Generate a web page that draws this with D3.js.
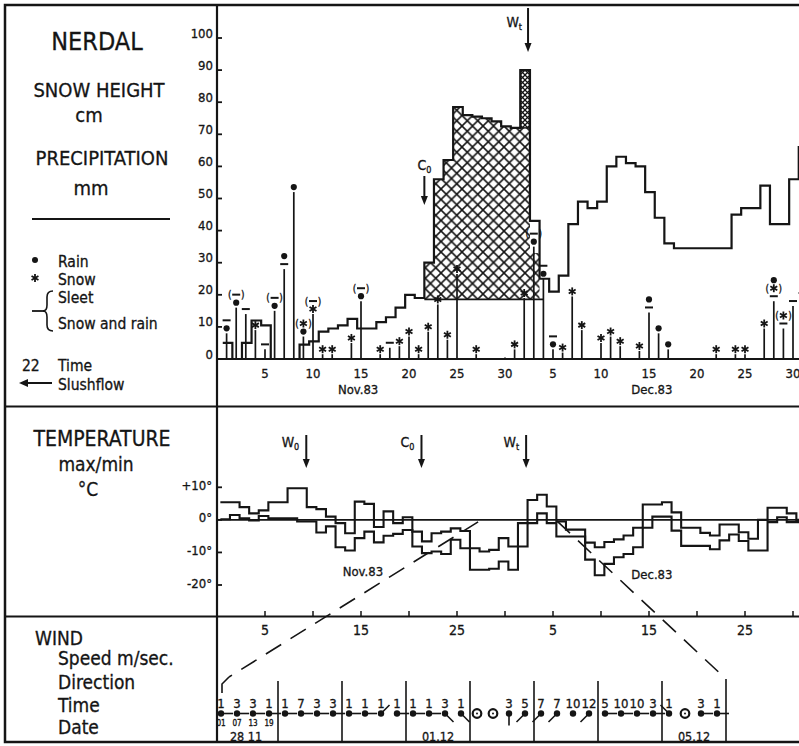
<!DOCTYPE html>
<html>
<head>
<meta charset="utf-8">
<script src="https://cdn.jsdelivr.net/npm/d3@7"></script>
<style>
	body { margin: 0; background: #fff; }
	text { font-family: "DejaVu Sans Condensed", "Liberation Sans Narrow", "DejaVu Sans", sans-serif; font-stretch: condensed; fill: #151515; stroke: #151515; stroke-width: 0.3px; }
</style>
</head>
<body>
<svg id="chart" width="799" height="746"></svg>
<script>
// day 1 = 1 Nov 1983, day 31 = 1 Dec 1983, day 61 = 31 Dec 1983
let snowHeight = [5, 0, 5, 12, 10.5, 0, 0, 0, 4.5, 5.5, 8.5, 9.5, 10.5, 12.5, 9.5, 9.5, 11.5, 13, 16, 20,
	19, 30, 56, 62, 78.5, 76, 75.5, 75, 74, 72.5, 72, 90, 43, 25, 21, 26, 42, 49, 47, 49,
	60, 63, 61, 60, 52, 44, 36, 34.5, 34.5, 34.5, 34.5, 34.5, 34.5, 45, 47, 47, 54, 42, 42, 56, 66];

let tempMax = [5.4, 5.4, 3.9, 2.0, 2.9, 5.4, 5.4, 9.7, 9.7, 3.9, 3.3, 1.0, -1.0, -4.1, 5.6, 4.9, -2.2, 2.6, -1.0, 0.8,
	-3.6, -6.6, -4.1, -3.6, -2.6, -3.4, -8.7, -9.7, -9.2, -5.6, -8.2, -1.0, 6.1, 7.7, 4.1, -0.5, -3.0, -3.0, -7.0, -8.4,
	-6.8, -6.0, -4.8, -2.4, 4.7, 4.7, 5.4, 2.3, -2.4, -2.4, -4.0, -4.8, -1.4, -1.4, -3.8, -5.8, 0, 3.7, 3.7, 2.0, 0];

let tempMin = [0.2, 1.5, 0.5, -0.2, 1.2, 0.5, 0.5, 0.5, -0.5, -0.5, -3.9, -2.0, -8.4, -9.4, -5.6, -3.6, -6.9, -4.9, -4.3, -3.1,
	-8.2, -10.2, -9.7, -10.5, -6.1, -8.7, -15.3, -15.3, -15.0, -12.8, -15.3, -8.2, -1.0, 2.0, -1.0, -5.1, -5.1, -5.1, -12.2, -17.0,
	-13.5, -11.5, -10.5, -8.4, -2.4, 1.0, 1.0, -3.3, -8.0, -8.0, -8.0, -9.0, -6.3, -4.5, -6.5, -9.4, -9.4, -0.7, 0.8, -0.7, -0.7];

// precipitation: day, mm, symbols from the bar upwards (r rain, s snow, m sleet / snow and rain, brackets = uncertain)
let precipDay = [1, 2, 3, 4, 5, 6, 7, 8, 9, 10, 11, 12, 14, 15, 17, 18, 19, 20, 21, 22, 23, 24, 25, 27, 30,
	31, 32, 33, 34, 35, 36, 37, 38, 40, 41, 42, 44, 45, 46, 47, 52, 54, 55, 57, 58, 59, 60, 61];
let precipMm = [8, 16, 14, 9, 3, 15, 28, 52, 7, 14, 1.5, 1.5, 5, 18, 1.5, 3.5, 4, 7, 1.5, 8.5, 17, 6, 26.5, 1.5, 0.5,
	3, 19, 35, 25, 3, 2, 19.5, 9, 5, 7, 4, 2.5, 14.5, 8, 3, 1.5, 1.5, 1.5, 9.5, 18, 9.5, 16.5, 19];
let precipSym = [["r", "m"], ["r", "(m)"], ["m"], ["s"], ["m"], ["r", "(m)"], ["m", "r"], ["r"], ["r", "(s)"], ["s", "(m)"],
	["s"], ["s"], ["s"], ["r", "(m)"], ["s"], ["m"], ["s"], ["s"], ["s"], ["s"], ["s"], ["s"], ["s"], ["s"], [],
	["s"], ["s"], ["r", "(m)"], ["r", "m"], ["r", "m"], ["s"], ["s"], ["s"], ["s"], ["s"], ["s"], ["s"], ["m", "r"], ["r"], ["r"],
	["s"], ["s"], ["s"], ["s"], ["m", "(s)", "r"], ["m", "(s)"], ["m"], ["m"]];

// snow removed by the slushflow (hatched)
let slushDays = [22, 23, 24, 25, 26, 27, 28, 29, 30, 31, 32, 33];
let slushTop = [30, 56, 62, 78.5, 76, 75.5, 75, 74, 72.5, 72, 72, 33];
let slushBase = 18.6;
let peakDay = 32;
let peakRange = [72, 90];

let heightTicks = [0, 10, 20, 30, 40, 50, 60, 70, 80, 90, 100];
let dayTicks = [5, 10, 15, 20, 25, 30, 35, 40, 45, 50, 55, 60];
let dayTickLabels = ["5", "10", "15", "20", "25", "30", "5", "10", "15", "20", "25", "30"];
let tempTicks = [10, 0, -10, -20];
let tempTickLabels = ["+10°", "0°", "-10°", "-20°"];
let tempAxisDays = [5, 15, 25, 35, 45, 55];
let tempAxisLabels = ["5", "15", "25", "5", "15", "25"];

let topEvents = [{ name: "C", sub: "0", day: 21.6, y0: 176, y1: 205, above: true },
	{ name: "W", sub: "t", day: 32.4, y0: 8, y1: 52, above: false }];
let tempEvents = [{ name: "W", sub: "0", day: 9.3 }, { name: "C", sub: "0", day: 21.3 }, { name: "W", sub: "t", day: 32.2 }];

// wind, 28.11 - 05.12, observations at 01, 07, 13, 19
let zoomFrom = 27.2;
let zoomTo = 35.4;
let windDates = ["28 11", "", "", "01.12", "", "", "", "05.12"];
let windHours = ["01", "07", "13", "19"];
let windSpeed = ["1", "3", "3", "1", "1", "7", "3", "3", "1", "1", "1", "1", "1", "1", "3", "1",
	"", "", "3", "5", "7", "7", "10", "12", "5", "10", "10", "3", "1", "", "3", "1"];
let windDir = ["E", "E", "E", "E", "E", "E", "E", "E", "E", "E", "NE", "E", "E", "E", "SE", "SE",
	"C", "C", "S", "SW", "SW", "SW", "-", "SW", "E", "E", "E", "E", "NW", "C", "E", "E"];

let ink = "#151515";
let svg = d3.select("#chart");

let x = d3.scaleLinear().domain([0, 60]).range([217, 793]);
let ySnow = d3.scaleLinear().domain([0, 100]).range([359, 38]);
let yTemp = d3.scaleLinear().domain([-20, 10]).range([585, 487.3]);
let xWind = d3.scaleLinear().domain([0, 8]).range([214, 726]);

// hatch patterns
let defs = svg.append("defs");
function hatch(id, step, w) {
	let p = defs.append("pattern").attr("id", id).attr("patternUnits", "userSpaceOnUse")
		.attr("width", step).attr("height", step);
	p.append("path").attr("d", "M0,0L" + step + "," + step + "M" + step + ",0L0," + step)
		.attr("stroke", ink).attr("stroke-width", w);
}
hatch("cross", 10.5, 1.6);
hatch("dense", 5, 1.3);

defs.append("clipPath").attr("id", "plot").append("rect")
	.attr("x", 217).attr("y", 0).attr("width", 582).attr("height", 746);

// frame
svg.append("rect").attr("x", 5).attr("y", 5).attr("width", 830).attr("height", 737)
	.attr("fill", "none").attr("stroke", ink).attr("stroke-width", 2.5);
[406.5, 616.5].forEach(function(yy) {
	svg.append("line").attr("x1", 5).attr("x2", 799).attr("y1", yy).attr("y2", yy)
		.attr("stroke", ink).attr("stroke-width", 2.2);
});
svg.append("line").attr("x1", 217).attr("x2", 217).attr("y1", 5).attr("y2", 742)
	.attr("stroke", ink).attr("stroke-width", 2.2);

function label(txt, px, py, size, anchor) {
	return svg.append("text").attr("x", px).attr("y", py).attr("font-size", size)
		.attr("text-anchor", anchor || "start").attr("fill", ink).text(txt);
}

function asterisk(g, cx, cy) {
	[90, 30, -30].forEach(function(a) {
		let r = a * Math.PI / 180;
		g.append("line")
			.attr("x1", cx - 4 * Math.cos(r)).attr("y1", cy - 4 * Math.sin(r))
			.attr("x2", cx + 4 * Math.cos(r)).attr("y2", cy + 4 * Math.sin(r))
			.attr("stroke", ink).attr("stroke-width", 1.8);
	});
}

// ---------- left legend, top panel
label("NERDAL", 97, 50, 25, "middle");
label("SNOW HEIGHT", 99, 97, 20, "middle");
label("cm", 89, 122, 20, "middle");
label("PRECIPITATION", 102, 165, 20, "middle");
label("mm", 91, 195, 20, "middle");
svg.append("line").attr("x1", 32).attr("x2", 170).attr("y1", 219).attr("y2", 219)
	.attr("stroke", ink).attr("stroke-width", 2);
label("Rain", 58, 267, 15.5);
label("Snow", 58, 285, 15.5);
label("Sleet", 58, 303, 15.5);
label("Snow and rain", 58, 329, 15.5);
label("22", 22, 371, 15.5);
label("Time", 58, 371, 15.5);
label("Slushflow", 58, 390, 15.5);
svg.append("circle").attr("cx", 35).attr("cy", 260).attr("r", 3).attr("fill", ink);
asterisk(svg, 35, 278);
svg.append("path").attr("d", "M53,291Q47,291 47,297L47,305Q47,311 43,311Q47,311 47,317L47,325Q47,331 53,331")
	.attr("fill", "none").attr("stroke", ink).attr("stroke-width", 1.6);
svg.append("line").attr("x1", 32).attr("x2", 45).attr("y1", 311).attr("y2", 311)
	.attr("stroke", ink).attr("stroke-width", 1.8);
svg.append("line").attr("x1", 26).attr("x2", 52).attr("y1", 383).attr("y2", 383)
	.attr("stroke", ink).attr("stroke-width", 2);
svg.append("path").attr("d", "M19,383L28,379L28,387Z").attr("fill", ink);

// ---------- snow height / precipitation panel
let snowG = svg.append("g").attr("clip-path", "url(#plot)");

heightTicks.forEach(function(t) {
	svg.append("line").attr("x1", 217).attr("x2", 222).attr("y1", ySnow(t)).attr("y2", ySnow(t))
		.attr("stroke", ink).attr("stroke-width", 1.8);
	label(t, 213, ySnow(t) - 0.5, 13, "end");
});
dayTicks.forEach(function(d, i) {
	label(dayTickLabels[i], x(d), 378, 13, "middle");
});
label("Nov.83", x(14.7), 394, 13, "middle");
label("Dec.83", x(45.3), 394, 13, "middle");

// hatched slushflow area
let slushPts = slushDays.map(function(d, i) { return [d - 0.4, slushTop[i]]; });
slushPts.push([slushDays[slushDays.length - 1] + 0.6, slushTop[slushTop.length - 1]]);
snowG.append("path")
	.attr("d", d3.area().curve(d3.curveStepAfter)
		.x(function(p) { return x(p[0]); })
		.y0(ySnow(slushBase))
		.y1(function(p) { return ySnow(p[1]); })(slushPts))
	.attr("fill", "url(#cross)");
snowG.append("rect")
	.attr("x", x(peakDay - 0.4)).attr("width", x(peakDay + 0.6) - x(peakDay - 0.4))
	.attr("y", ySnow(peakRange[1])).attr("height", ySnow(peakRange[0]) - ySnow(peakRange[1]))
	.attr("fill", "url(#dense)").attr("stroke", ink).attr("stroke-width", 1.5);
snowG.append("line")
	.attr("x1", x(slushDays[0] - 0.4)).attr("x2", x(slushDays[slushDays.length - 1] + 1))
	.attr("y1", ySnow(slushBase)).attr("y2", ySnow(slushBase))
	.attr("stroke", ink).attr("stroke-width", 1.8);

// snow height step line
let snowPts = snowHeight.map(function(v, i) { return [i + 1 - 0.4, v]; });
snowPts.push([snowHeight.length + 0.6, snowHeight[snowHeight.length - 1]]);
snowG.append("path")
	.attr("d", d3.line().curve(d3.curveStepAfter)
		.x(function(p) { return x(p[0]); })
		.y(function(p) { return ySnow(p[1]); })(snowPts))
	.attr("fill", "none").attr("stroke", ink).attr("stroke-width", 2.2);

// precipitation bars with symbols
function precipSymbol(g, sym, cx, cy) {
	let paren = sym.charAt(0) == "(";
	let core = paren ? sym.charAt(1) : sym;
	if (core == "r") {
		g.append("circle").attr("cx", cx).attr("cy", cy).attr("r", 3.1).attr("fill", ink);
	}
	else if (core == "s") {
		asterisk(g, cx, cy);
	}
	else if (core == "m") {
		g.append("line").attr("x1", cx - 4).attr("x2", cx + 4).attr("y1", cy).attr("y2", cy)
			.attr("stroke", ink).attr("stroke-width", 2);
	}
	if (paren) {
		g.append("text").attr("x", cx - 6.5).attr("y", cy + 3.5).attr("font-size", 10)
			.attr("text-anchor", "middle").attr("fill", ink).text("(");
		g.append("text").attr("x", cx + 6.5).attr("y", cy + 3.5).attr("font-size", 10)
			.attr("text-anchor", "middle").attr("fill", ink).text(")");
	}
}
precipDay.forEach(function(d, i) {
	let v = precipMm[i];
	snowG.append("line").attr("x1", x(d)).attr("x2", x(d))
		.attr("y1", ySnow(0)).attr("y2", ySnow(v))
		.attr("stroke", ink).attr("stroke-width", 1.7);
	let yy = ySnow(v) - 5;
	precipSym[i].forEach(function(s) {
		precipSymbol(snowG, s, x(d), yy);
		yy -= 8;
	});
});

snowG.append("line").attr("x1", 217).attr("x2", 799).attr("y1", ySnow(0)).attr("y2", ySnow(0))
	.attr("stroke", ink).attr("stroke-width", 2.2);

function eventArrow(px, y0, y1) {
	svg.append("line").attr("x1", px).attr("x2", px).attr("y1", y0).attr("y2", y1 - 6)
		.attr("stroke", ink).attr("stroke-width", 2);
	svg.append("path").attr("d", "M" + (px - 3.5) + "," + (y1 - 9) + "L" + (px + 3.5) + "," + (y1 - 9) + "L" + px + "," + y1 + "Z")
		.attr("fill", ink);
}
function eventLabel(ev, px, py, anchor) {
	let t = svg.append("text").attr("x", px).attr("y", py).attr("font-size", 14)
		.attr("text-anchor", anchor).attr("fill", ink);
	t.append("tspan").text(ev.name);
	t.append("tspan").attr("font-size", 9).attr("dy", 3).text(ev.sub);
}
topEvents.forEach(function(ev) {
	eventArrow(x(ev.day), ev.y0, ev.y1);
	if (ev.above) eventLabel(ev, x(ev.day), ev.y0 - 6, "middle");
	else eventLabel(ev, x(ev.day) - 6, 27, "end");
});

// ---------- temperature panel
label("TEMPERATURE", 102, 446, 21, "middle");
label("max/min", 96, 471, 19, "middle");
label("°C", 88, 496, 19, "middle");

tempTicks.forEach(function(t, i) {
	svg.append("line").attr("x1", 217).attr("x2", 222).attr("y1", yTemp(t)).attr("y2", yTemp(t))
		.attr("stroke", ink).attr("stroke-width", 1.8);
	label(tempTickLabels[i], 212, yTemp(t) + 2.5, 13, "end");
});
svg.append("line").attr("x1", 217).attr("x2", 799).attr("y1", yTemp(0)).attr("y2", yTemp(0))
	.attr("stroke", ink).attr("stroke-width", 1.8);

let tempG = svg.append("g").attr("clip-path", "url(#plot)");
[tempMax, tempMin].forEach(function(series) {
	let pts = series.map(function(v, i) { return [Math.max(i + 1 - 0.65, 0.05), v]; });
	pts.push([series.length + 0.35, series[series.length - 1]]);
	tempG.append("path")
		.attr("d", d3.line().curve(d3.curveStepAfter)
			.x(function(p) { return x(p[0]); })
			.y(function(p) { return yTemp(p[1]); })(pts))
		.attr("fill", "none").attr("stroke", ink).attr("stroke-width", 2.1);
});
label("Nov.83", x(15.2), 576, 13, "middle");
label("Dec.83", x(45.3), 579, 13, "middle");

tempEvents.forEach(function(ev) {
	eventArrow(x(ev.day), 435, 468);
	eventLabel(ev, x(ev.day) - 7, 447, "end");
});

// day ticks on the temperature base line
dayTicks.forEach(function(d) {
	svg.append("line").attr("x1", x(d)).attr("x2", x(d)).attr("y1", 611).attr("y2", 616.5)
		.attr("stroke", ink).attr("stroke-width", 1.5);
});
tempAxisDays.forEach(function(d, i) {
	label(tempAxisLabels[i], x(d), 635, 14, "middle");
});

// zoom lines from the temperature panel to the wind table
let dash = "18,11";
svg.append("path").attr("d", d3.line()([[x(zoomFrom), yTemp(0) + 2], [xWind(0) + 15, 677]]))
	.attr("stroke", ink).attr("stroke-width", 1.6).attr("stroke-dasharray", dash);
svg.append("path").attr("d", d3.line()([[xWind(0) + 15, 677], [xWind(0) + 8, 684], [xWind(0) + 8, 693]]))
	.attr("fill", "none").attr("stroke", ink).attr("stroke-width", 1.6);
svg.append("path").attr("d", d3.line()([[x(zoomTo), yTemp(0) + 1], [xWind(8), 679]]))
	.attr("stroke", ink).attr("stroke-width", 1.6).attr("stroke-dasharray", dash);
svg.append("line").attr("x1", xWind(8)).attr("x2", xWind(8)).attr("y1", 679).attr("y2", 742)
	.attr("stroke", ink).attr("stroke-width", 1.6);

// ---------- wind panel
label("WIND", 35, 645, 19);
label("Speed m/sec.", 58, 665, 19);
label("Direction", 58, 689, 19);
label("Time", 58, 712, 19);
label("Date", 58, 734, 19);

for (let k = 1; k < 8; k++) {
	svg.append("line").attr("x1", xWind(k)).attr("x2", xWind(k)).attr("y1", 681).attr("y2", 742)
		.attr("stroke", ink).attr("stroke-width", 1.6);
}

let dirAngle = { E: 0, NE: -45, SE: 45, S: 90, SW: 135, W: 180, NW: -135 };
let dotY = 713.5;
windSpeed.forEach(function(s, i) {
	let k = Math.floor(i / 4), j = i % 4;
	let px = xWind(k) + 7 + j * 16;
	let dir = windDir[i];
	if (dir == "C") {
		svg.append("circle").attr("cx", px).attr("cy", dotY).attr("r", 4.3)
			.attr("fill", "none").attr("stroke", ink).attr("stroke-width", 2.2);
		svg.append("circle").attr("cx", px).attr("cy", dotY).attr("r", 1).attr("fill", ink);
	}
	else {
		if (dirAngle[dir] !== undefined) {
			let a = dirAngle[dir] * Math.PI / 180;
			svg.append("line").attr("x1", px).attr("y1", dotY)
				.attr("x2", px + 12 * Math.cos(a)).attr("y2", dotY + 12 * Math.sin(a))
				.attr("stroke", ink).attr("stroke-width", 1.6);
		}
		svg.append("circle").attr("cx", px).attr("cy", dotY).attr("r", 3.2).attr("fill", ink);
	}
	if (s != "") label(s, px, 708, 13, "middle");
});
windHours.forEach(function(h, j) {
	label(h, xWind(0) + 7 + j * 16, 725.5, 8, "middle");
});
windDates.forEach(function(dt, k) {
	if (dt != "") label(dt, xWind(k + 0.5), 740.5, 12.5, "middle");
});
</script>
</body>
</html>
